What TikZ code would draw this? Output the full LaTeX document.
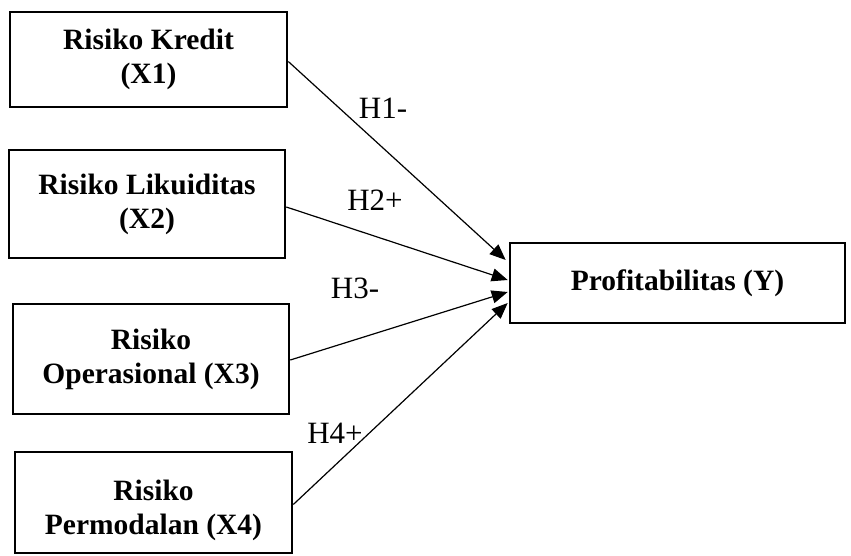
\documentclass[tikz,border=0pt]{standalone}
\usepackage{fontspec}
\setmainfont{Liberation Serif}
\usetikzlibrary{arrows.meta}
\begin{document}
\begin{tikzpicture}[x=1pt,y=-1pt,
  varbox/.style={draw,line width=2.6pt,rectangle,inner sep=0pt,align=center,
    font=\fontsize{29.5}{34}\selectfont\bfseries},
  vartext/.style={inner sep=0pt,align=center,font=\fontsize{29.5}{34}\selectfont\bfseries},
  hyp/.style={font=\fontsize{31}{34}\selectfont,inner sep=0pt},
  conn/.style={line width=1.2pt,-{Triangle[length=16pt,width=13pt]}}]
\useasboundingbox (0,0) rectangle (851,556);
\node[varbox,minimum width=277pt,minimum height=95pt] (x1) at (148.5,59.5) {Risiko Kredit\\(X1)};
\node[varbox,minimum width=276pt,minimum height=108pt] (x2) at (147,204) {Risiko Likuiditas\\(X2)};
\node[varbox,minimum width=276pt,minimum height=110pt] (x3) at (151,359) {Risiko\\Operasional (X3)};
\node[varbox,minimum width=277pt,minimum height=101pt] (x4) at (153.5,502.5) {};
\node[vartext] (x4t) at (153.5,510) {Risiko\\Permodalan (X4)};
\node[varbox,minimum width=335pt,minimum height=80pt] (y) at (677.5,283) {Profitabilitas (Y)};
\draw[conn] ([yshift=-2pt]x1.east) -- ([xshift=-3pt,yshift=23pt]y.west);
\draw[conn] ([yshift=-3pt]x2.east) -- ([xshift=-1pt,yshift=3pt]y.west);
\draw[conn] ([yshift=-1pt]x3.east) -- ([xshift=-1pt,yshift=-9pt]y.west);
\draw[conn] ([yshift=-2pt]x4.east) -- ([xshift=-1pt,yshift=-20pt]y.west);
\node[hyp] (h1) at (383,108) {H1-};
\node[hyp] (h2) at (375,200) {H2+};
\node[hyp] (h3) at (355,288) {H3-};
\node[hyp] (h4) at (335,433) {H4+};
\end{tikzpicture}
\end{document}
